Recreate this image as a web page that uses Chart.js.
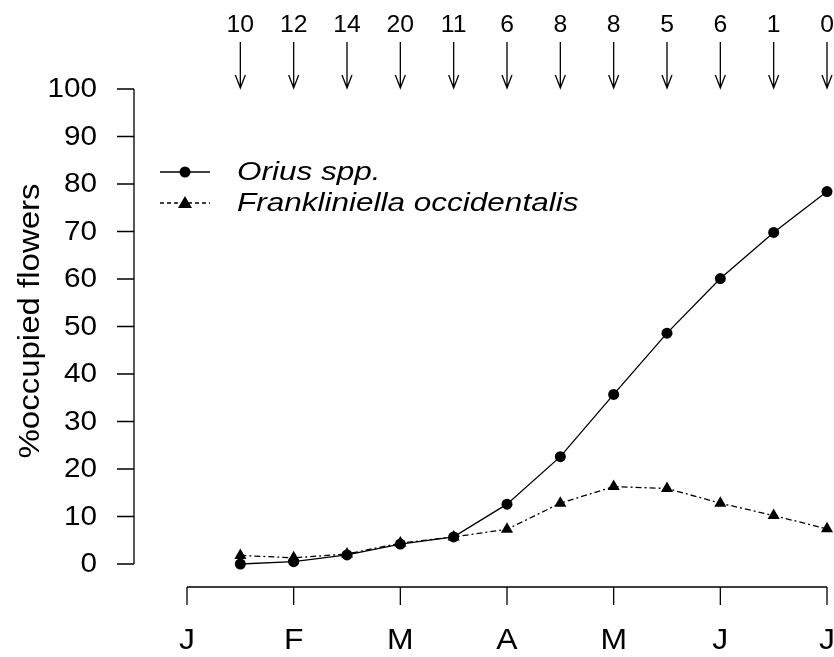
<html>
  <head>
    <script src="https://cdn.jsdelivr.net/npm/chart.js@4/dist/chart.umd.min.js"></script>
    <style>
      body { margin: 0; background: #fff; }
      #wrap { width: 834px; height: 657px; }
    </style>
  </head>
  <body>
    <div id="wrap"><canvas id="chart"></canvas></div>
    <script>
// month ticks sit at 0..6, samples every half month
const months = ["J", "F", "M", "A", "M", "J", "J"];
const samplePos = [0.5, 1, 1.5, 2, 2.5, 3, 3.5, 4, 4.5, 5, 5.5, 6];
const orius = [0, 0.5, 1.9, 4.2, 5.7, 12.6, 22.6, 35.7, 48.6, 60.1, 69.8, 78.4];
const frankliniella = [1.8, 1.3, 2.1, 4.4, 5.7, 7.3, 12.8, 16.3, 15.9, 12.8, 10.2, 7.4];
const counts = [10, 12, 14, 20, 11, 6, 8, 8, 5, 6, 1, 0];
const yTicks = [0, 10, 20, 30, 40, 50, 60, 70, 80, 90, 100];

const FONT = "'Liberation Sans', Arial, sans-serif";

function pts(ys) {
  return samplePos.map((x, i) => ({x: x, y: ys[i]}));
}

// R draws text a little wider than canvas Arial, so stretch it
function drawText(ctx, txt, x, y, size, align, sx, italic) {
  ctx.save();
  ctx.translate(x, y);
  ctx.scale(sx, 1);
  ctx.font = (italic ? "italic " : "") + size + "px " + FONT;
  ctx.textAlign = align;
  ctx.textBaseline = "middle";
  ctx.fillText(txt, 0, 0);
  ctx.restore();
}

function marker(ctx, style, x, y) {
  ctx.beginPath();
  if (style == "circle") {
    ctx.arc(x, y, 5.5, 0, Math.PI * 2);
  } else {
    ctx.moveTo(x, y - 7);
    ctx.lineTo(x + 7, y + 5);
    ctx.lineTo(x - 7, y + 5);
    ctx.closePath();
  }
  ctx.fill();
}

const rAxes = {
  id: "rAxes",
  afterDraw(chart) {
    const ctx = chart.ctx;
    const xs = chart.scales.x, ys = chart.scales.y;
    ctx.save();
    ctx.strokeStyle = "#000";
    ctx.fillStyle = "#000";
    ctx.lineWidth = 1.3;

    // y axis, detached to the left
    const ax = 134;
    ctx.beginPath();
    ctx.moveTo(ax, ys.getPixelForValue(0));
    ctx.lineTo(ax, ys.getPixelForValue(100));
    yTicks.forEach(v => {
      const py = ys.getPixelForValue(v);
      ctx.moveTo(ax, py);
      ctx.lineTo(ax - 17, py);
    });
    ctx.stroke();
    yTicks.forEach(v => {
      drawText(ctx, String(v), 97, ys.getPixelForValue(v) + 1, 27, "right", 1.1);
    });

    // x axis, detached below
    const ay = 587;
    ctx.beginPath();
    ctx.moveTo(xs.getPixelForValue(0), ay);
    ctx.lineTo(xs.getPixelForValue(6), ay);
    months.forEach((m, i) => {
      const px = xs.getPixelForValue(i);
      ctx.moveTo(px, ay);
      ctx.lineTo(px, ay + 18);
    });
    ctx.stroke();
    months.forEach((m, i) => {
      drawText(ctx, m, xs.getPixelForValue(i), 641, 29, "center", 1.1);
    });

    // y title
    ctx.save();
    ctx.translate(31, 321);
    ctx.rotate(-Math.PI / 2);
    drawText(ctx, "%occupied flowers", 0, 0, 30, "center", 1.1);
    ctx.restore();

    // counts with arrows along the top
    samplePos.forEach((p, i) => {
      const px = xs.getPixelForValue(p);
      drawText(ctx, String(counts[i]), px, 25, 24, "center", 1.03);
      ctx.beginPath();
      ctx.moveTo(px, 42);
      ctx.lineTo(px, 88);
      ctx.moveTo(px - 5, 75);
      ctx.lineTo(px, 88);
      ctx.lineTo(px + 5, 75);
      ctx.stroke();
    });

    // legend
    ctx.beginPath();
    ctx.moveTo(160, 172);
    ctx.lineTo(210, 172);
    ctx.stroke();
    marker(ctx, "circle", 185, 172);
    ctx.setLineDash([4, 3]);
    ctx.beginPath();
    ctx.moveTo(160, 203);
    ctx.lineTo(210, 203);
    ctx.stroke();
    ctx.setLineDash([]);
    marker(ctx, "triangle", 185, 203);
    drawText(ctx, "Orius spp.", 237, 173, 25, "left", 1.26, true);
    drawText(ctx, "Frankliniella occidentalis", 237, 204, 25, "left", 1.26, true);

    ctx.restore();
  }
};

new Chart(document.getElementById("chart"), {
  type: "line",
  data: {
    datasets: [{
      label: "Orius spp.",
      data: pts(orius),
      borderColor: "#000",
      backgroundColor: "#000",
      borderWidth: 1.3,
      pointStyle: "circle",
      pointRadius: 5.5,
      pointBorderWidth: 0,
      tension: 0,
      clip: false
    }, {
      label: "Frankliniella occidentalis",
      data: pts(frankliniella),
      borderColor: "#000",
      backgroundColor: "#000",
      borderWidth: 1.3,
      borderDash: [6, 3, 2, 3],
      pointStyle: "triangle",
      pointRadius: 7,
      pointBorderWidth: 0,
      tension: 0,
      clip: false
    }]
  },
  options: {
    responsive: true,
    maintainAspectRatio: false,
    animation: false,
    layout: { padding: { left: 187, right: 6, top: 89, bottom: 93 } },
    scales: {
      x: { type: "linear", min: 0, max: 6, display: false },
      y: { min: 0, max: 100, display: false }
    },
    plugins: {
      legend: { display: false },
      tooltip: { enabled: false }
    }
  },
  plugins: [rAxes]
});
    </script>
  </body>
</html>
